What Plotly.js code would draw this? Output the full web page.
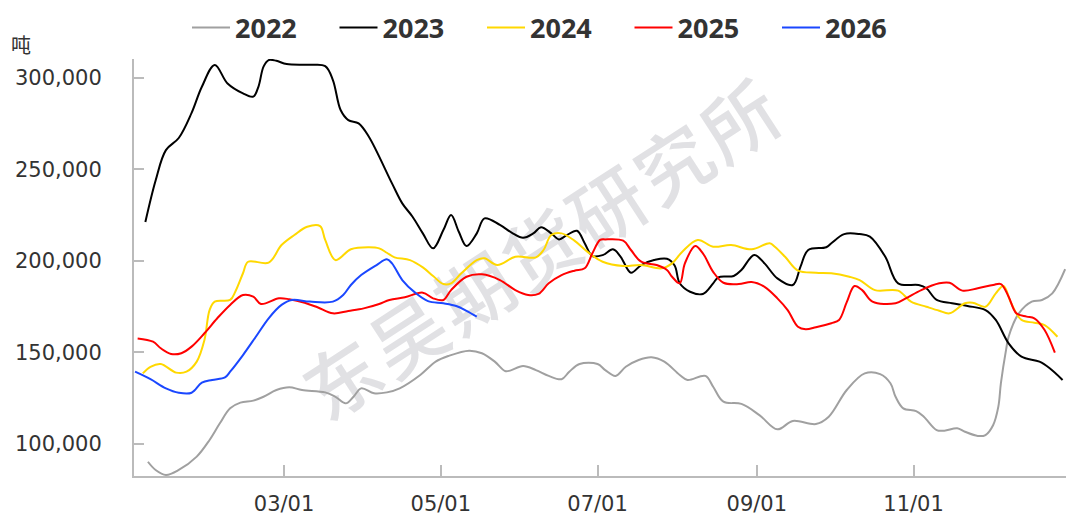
<!DOCTYPE html>
<html>
<head>
<meta charset="utf-8">
<script src="https://cdn.plot.ly/plotly-3.0.1.min.js"></script>
<style>
  html, body { margin: 0; padding: 0; background: #ffffff; }
  #wrap { position: relative; width: 1066px; height: 515px; overflow: hidden; }
  #wm { position: absolute; left: 541px; top: 246px; transform: translate(-50%, -50%) rotate(-33deg);
        font-family: "Noto Sans CJK SC", sans-serif; font-size: 75px; font-weight: 500; color: #e1e1e4;
        white-space: nowrap; letter-spacing: 4px; z-index: 0; }
  #chart { position: absolute; left: 0; top: 0; width: 1066px; height: 515px; z-index: 1; }
</style>
</head>
<body>
<div id="wrap">
  <div id="wm">东吴期货研究所</div>
  <div id="chart"></div>
</div>
<script>
const seriesNames = ['2022', '2023', '2024', '2025', '2026'];
const seriesColors = ['#a0a0a0', '#000000', '#ffd800', '#ff0000', '#1a47ff'];

const d2022 = ['01-07','01-10','01-14','01-19','01-26','01-31','02-04','02-08','02-12','02-17','02-21','02-26','03-03','03-08','03-17','03-21','03-25','03-28','03-31','04-05','04-10','04-15','04-23','04-29','05-04','05-12','05-17','05-22','05-26','05-28','06-02','06-07','06-12','06-17','06-20','06-24','07-01','07-04','07-08','07-12','07-17','07-22','07-27','08-02','08-05','08-12','08-15','08-19','08-26','09-02','09-09','09-15','09-24','09-29','10-06','10-13','10-19','10-23','10-25','10-28','11-02','11-05','11-10','11-13','11-18','11-21','11-26','11-29','12-02','12-04','12-05','12-07','12-08','12-12','12-17','12-21','12-25','12-30'];
const v2022 = [90300,85800,83100,85800,93100,102200,111300,119500,122600,123700,125800,129500,131000,129500,128200,125800,122200,125800,130400,127700,128200,130400,137700,145000,148100,151000,149600,145000,139900,140100,142600,140400,137200,135400,139500,143700,143700,140400,137200,142200,145900,147400,145000,137700,135000,137200,131300,123100,121900,115800,108000,112600,110900,114900,129500,138600,138200,133200,125800,119500,118000,114900,107600,107300,108600,106700,104400,104900,110400,120400,133200,151400,158600,171400,177800,178700,182300,195500];

const d2023 = ['01-06','01-10','01-14','01-19','01-24','01-28','02-02','02-07','02-13','02-17','02-19','02-21','02-23','02-26','03-02','03-11','03-17','03-20','03-23','03-26','03-30','04-03','04-12','04-16','04-20','04-24','04-28','05-02','05-05','05-08','05-11','05-15','05-18','05-24','05-29','06-02','06-06','06-09','06-13','06-16','06-19','06-23','06-26','06-29','07-03','07-07','07-10','07-14','07-18','07-23','07-28','07-31','08-02','08-06','08-11','08-15','08-17','08-23','08-26','08-31','09-04','09-09','09-15','09-18','09-21','09-28','09-30','10-05','10-11','10-15','10-21','10-26','11-03','11-06','11-10','11-16','11-22','11-29','12-03','12-08','12-13','12-20','12-24','12-29'];
const v2023 = [221300,244000,260600,267200,280900,295200,307100,297000,291600,289800,295200,306200,309800,309400,307600,307200,306500,298900,282500,277000,275200,267900,242400,231500,224200,215100,206900,216900,225100,216000,208200,215100,223300,219700,215100,212700,215100,218400,215100,211800,214100,216500,209700,202700,203200,206400,202300,193600,197800,200500,201200,197500,187800,183200,182000,187800,191100,191800,195100,203300,198700,190500,186900,196900,206000,207500,209700,214700,214700,213300,202300,187800,186900,185100,178700,176900,175400,173200,167800,155000,147700,145000,141400,135000];

const d2024 = ['01-05','01-08','01-12','01-18','01-22','01-26','01-29','01-31','02-02','02-08','02-10','02-13','02-15','02-23','02-28','03-05','03-10','03-15','03-17','03-21','03-27','04-03','04-07','04-10','04-13','04-19','04-24','04-28','05-02','05-05','05-09','05-15','05-18','05-23','05-30','06-07','06-10','06-13','06-17','06-22','06-27','07-03','07-11','07-18','07-26','07-30','08-03','08-09','08-15','08-22','08-30','09-06','09-08','09-12','09-17','09-24','09-30','10-07','10-11','10-17','10-26','10-31','11-06','11-11','11-15','11-21','11-24','11-29','12-03','12-06','12-09','12-13','12-18','12-22','12-27'];
const v2024 = [138600,142200,143700,139000,139500,145000,156800,173200,177800,178700,183200,193300,199600,199100,208700,214200,218700,219100,211500,200500,206400,207500,206900,204500,202000,200500,196500,191800,187400,187800,193300,200500,201500,197800,202300,202000,206000,214200,215100,211100,205100,199600,197300,197800,196000,198700,205100,211500,207800,208700,206400,209700,207800,202300,194700,193600,193300,191400,189600,184100,183800,177800,175000,172800,171400,176900,177200,175000,182300,186300,176900,167800,166300,165000,158600];

const d2025 = ['01-03','01-09','01-12','01-16','01-20','01-24','01-29','02-03','02-08','02-13','02-17','02-20','02-27','03-03','03-09','03-14','03-20','03-26','04-01','04-07','04-11','04-17','04-24','04-28','05-02','05-05','05-11','05-17','05-24','05-30','06-04','06-08','06-12','06-17','06-22','06-26','06-29','07-02','07-04','07-11','07-14','07-18','07-24','07-28','07-30','08-02','08-04','08-08','08-11','08-15','08-19','08-25','08-30','09-04','09-09','09-13','09-17','09-20','09-24','09-30','10-03','10-06','10-09','10-12','10-16','10-25','10-29','11-04','11-11','11-15','11-20','11-26','12-02','12-05','12-08','12-11','12-15','12-18','12-22','12-26'];
const v2025 = [157700,155900,152300,149200,149600,153200,160500,168700,176000,181400,180500,176500,179600,179100,177200,174700,171400,172700,174100,176500,178700,180200,182700,179600,178700,184100,191400,192700,189600,184100,181400,182000,187800,192300,194700,196000,204200,211500,211800,211100,206000,199600,197800,195100,191400,187800,198700,208200,204200,194100,188100,187400,188500,185900,179600,173200,164100,162700,163800,166000,167800,177500,186300,184100,177800,176900,179600,184100,187800,188100,183800,185100,186900,187400,180500,171400,169600,168700,162300,149900];

const d2026 = ['01-02','01-08','01-14','01-19','01-24','01-28','02-01','02-06','02-08','02-13','02-18','02-23','02-28','03-04','03-11','03-20','03-24','03-27','03-31','04-06','04-10','04-12','04-16','04-21','04-26','05-02','05-07','05-11','05-15'];
const v2026 = [139500,135400,130400,128000,128000,133500,135000,136400,139500,148600,158600,168700,176000,178700,177800,177800,181400,186900,192300,197800,200900,198700,189600,182700,178100,176900,175400,172800,169600];

const tickDates = ['03-01','05-01','07-01','09-01','11-01'];
const tickLabels = ['03/01','05/01','07/01','09/01','11/01'];
const yTicks = [100000,150000,200000,250000,300000];
const yTickLabels = ['100,000','150,000','200,000','250,000','300,000'];
const unitLabel = '吨';

const baseYear = '2021-';
const toDate = arr => arr.map(d => baseYear + d);

const allDates = [d2022, d2023, d2024, d2025, d2026];
const allVals = [v2022, v2023, v2024, v2025, v2026];

const traces = seriesNames.map((name, i) => ({
  type: 'scatter',
  mode: 'lines',
  name: name,
  x: toDate(allDates[i]),
  y: allVals[i],
  line: { color: seriesColors[i], width: 2, shape: 'spline', smoothing: 1 },
  hoverinfo: 'x+y+name'
}));

const layout = {
  width: 1066,
  height: 515,
  margin: { l: 134, r: 0, t: 59, b: 39, pad: 0, autoexpand: false },
  paper_bgcolor: 'rgba(0,0,0,0)',
  plot_bgcolor: 'rgba(0,0,0,0)',
  showlegend: true,
  legend: {
    orientation: 'h',
    xref: 'container', yref: 'container',
    x: 187 / 1066, xanchor: 'left',
    y: 1 - 28 / 515, yanchor: 'middle',
    itemwidth: 38,
    entrywidth: 94.5, entrywidthmode: 'pixels',
    font: { family: 'Noto Sans, sans-serif', size: 27, color: '#333333', weight: 'bold' },
    bgcolor: 'rgba(0,0,0,0)'
  },
  xaxis: {
    type: 'date',
    range: ['2021-01-01 14:00', '2021-12-30 08:00'],
    tickvals: toDate(tickDates),
    ticktext: tickLabels,
    ticks: 'inside', ticklen: 11, tickwidth: 1.5, tickcolor: '#bbbbbb',
    showline: true, linecolor: '#bbbbbb', linewidth: 2,
    showgrid: false, zeroline: false,
    ticklabelstandoff: 8,
    tickfont: { family: 'DejaVu Sans, sans-serif', size: 21, color: '#333333' }
  },
  yaxis: {
    range: [82510, 310380],
    tickvals: yTicks,
    ticktext: yTickLabels,
    ticks: 'inside', ticklen: 10, tickwidth: 1.5, tickcolor: '#bbbbbb',
    showline: true, linecolor: '#bbbbbb', linewidth: 2,
    showgrid: false, zeroline: false,
    ticklabelstandoff: 26,
    tickfont: { family: 'DejaVu Sans, sans-serif', size: 21, color: '#333333' }
  },
  annotations: [{
    text: unitLabel,
    xref: 'paper', yref: 'paper',
    x: (21 - 134) / 932, y: (476 - 44) / 417,
    xanchor: 'center', yanchor: 'middle',
    showarrow: false,
    font: { family: 'Noto Sans CJK SC, sans-serif', size: 20, color: '#333333' }
  }]
};

Plotly.newPlot('chart', traces, layout, { displayModeBar: false, responsive: false });
</script>
</body>
</html>
